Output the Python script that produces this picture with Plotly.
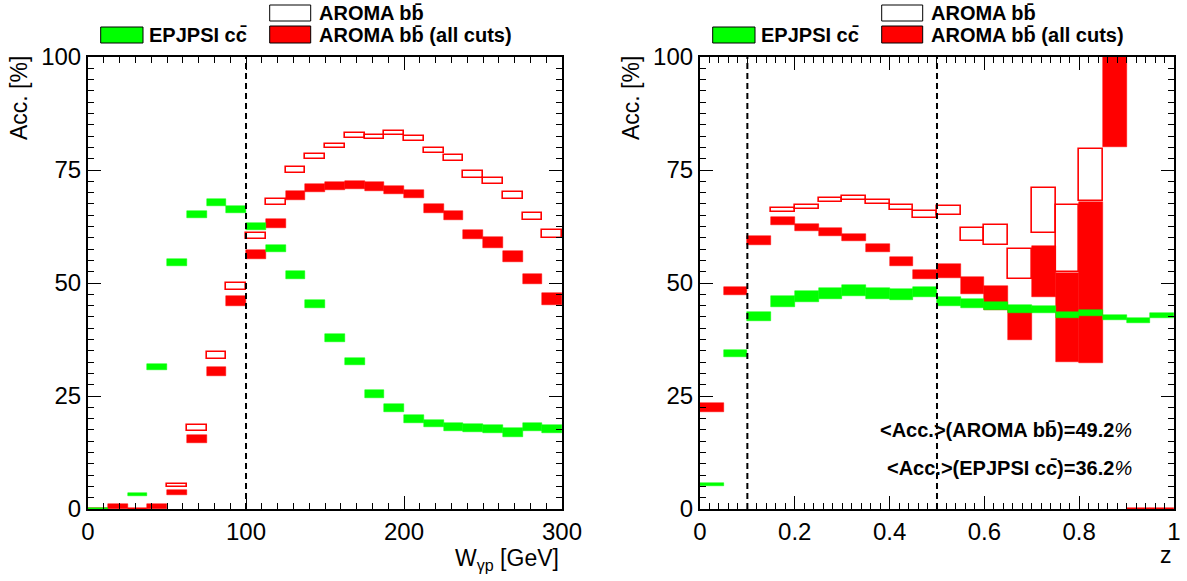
import plotly.graph_objects as go

# ---------------- data ----------------
# Left panel: W_gamma-p bins (GeV)
w_edges = [0, 12.5, 25, 37.5, 50, 62.5, 75, 87.5, 100, 112.5, 125, 137.5, 150,
           162.5, 175, 187.5, 200, 212.5, 225, 237.5, 250, 262.5, 275, 287.5, 300]

w_epj_val = [0, None, 3.3, 31.4, 54.5, 65.1, 67.8, 66.2, 62.5, 57.6, 51.8, 45.4,
             37.9, 32.6, 25.5, 22.3, 19.9, 18.9, 18.1, 17.9, 17.6, 16.9, 18.1, 17.7]
w_epj_err = [0.3, None, 0.35, 0.75, 0.75, 0.75, 0.75, 0.75, 0.78, 0.82, 0.82, 0.85,
             0.85, 0.85, 0.85, 0.85, 0.88, 0.85, 0.85, 0.85, 0.88, 0.93, 0.85, 0.9]

w_aro_cut_val = [0, 0.5, 0, 0.5, 3.6, 15.4, 30.4, 46.0, 56.4, 63.2, 69.3, 71.0,
                 71.5, 71.7, 71.4, 70.6, 69.7, 66.5, 64.9, 60.7, 59.0, 55.9, 50.9, 46.4]
w_aro_cut_err = [0.3, 0.5, 0.3, 0.5, 0.55, 0.9, 1.0, 1.05, 1.0, 1.0, 0.95, 0.95,
                 0.9, 0.95, 0.95, 0.97, 0.97, 1.0, 1.0, 1.05, 1.15, 1.15, 1.2, 1.3]

w_aro_val = [None, None, None, None, 5.2, 17.9, 33.9, 49.3, 60.4, 67.9, 75.0, 77.9,
             80.3, 82.6, 82.3, 83.2, 82.0, 79.3, 77.6, 74.0, 72.6, 69.3, 64.7, 60.9]
w_aro_err = [None, None, None, None, 0.4, 0.7, 0.73, 0.77, 0.65, 0.62, 0.58, 0.54,
             0.54, 0.5, 0.54, 0.47, 0.54, 0.54, 0.62, 0.7, 0.73, 0.8, 0.8, 0.9]

# Right panel: z bins
z_edges = [0, 0.05, 0.1, 0.15, 0.2, 0.25, 0.3, 0.35, 0.4, 0.45, 0.5,
           0.55, 0.6, 0.65, 0.7, 0.75, 0.8, 0.85, 0.9, 0.95, 1.0]

z_epj_val = [5.5, 34.4, 42.6, 45.9, 47.0, 47.7, 48.4, 47.7, 47.5, 48.0,
             45.9, 45.4, 44.9, 44.2, 44.1, 42.9, 43.3, 42.4, 41.7, 42.9]
z_epj_err = [0.3, 0.78, 1.04, 1.15, 1.22, 1.3, 1.26, 1.22, 1.19, 1.19,
             1.0, 1.04, 0.82, 0.89, 0.82, 0.74, 0.7, 0.63, 0.63, 0.56]

z_aro_cut_val = [22.4, 48.3, 59.5, 63.7, 62.2, 61.3, 60.1, 57.8, 54.7, 51.9,
                 52.7, 49.5, 46.7, 40.9, 52.5, 42.4, 50.1, 100.0, 0, 0]
z_aro_cut_err = [1.0, 0.9, 1.0, 0.8, 0.8, 0.8, 0.85, 0.9, 1.0, 1.08,
                 1.5, 1.9, 2.6, 3.6, 5.7, 9.8, 17.9, 20.0, 0.3, 0.3]

z_aro_val = [None, None, None, 66.1, 66.9, 68.3, 68.8, 67.9, 66.7, 65.1,
             66.0, 60.7, 60.6, 54.2, 66.0, 59.9, 73.9, None, None, None]
z_aro_err = [None, None, None, 0.4, 0.43, 0.4, 0.4, 0.43, 0.65, 0.77,
             1.0, 1.5, 2.2, 3.3, 5.0, 7.4, 5.7, None, None, None]

w_cuts = [100]
z_cuts = [0.1, 0.5]

mean_text = ["&lt;Acc.&gt;(AROMA bb\u0304)=49.2", "&lt;Acc.&gt;(EPJPSI cc\u0304)=36.2"]

# ---------------- styling ----------------
GREEN = "#00ff00"
RED = "#ff0000"
FONT = "Liberation Sans, Arial, Helvetica, sans-serif"


def boxes(edges, vals, errs, xa, ya, fill, line, lw):
    xs, ys, bs, ws = [], [], [], []
    for i, (v, e) in enumerate(zip(vals, errs)):
        if v is None:
            continue
        lo, hi = edges[i], edges[i + 1]
        xs.append((lo + hi) / 2)
        ws.append(hi - lo)
        bs.append(v - e)
        ys.append(2 * e)
    return go.Bar(x=xs, y=ys, base=bs, width=ws, xaxis=xa, yaxis=ya,
                  marker=dict(color=fill, line=dict(color=line, width=lw)),
                  hoverinfo="skip", showlegend=False)


fig = go.Figure()
for edges, xa, ya, av, ae, cv, ce, gv, ge in [
        (w_edges, "x", "y", w_aro_val, w_aro_err, w_aro_cut_val, w_aro_cut_err, w_epj_val, w_epj_err),
        (z_edges, "x2", "y2", z_aro_val, z_aro_err, z_aro_cut_val, z_aro_cut_err, z_epj_val, z_epj_err)]:
    fig.add_trace(boxes(edges, av, ae, xa, ya, "rgba(255,255,255,0)", RED, 1.6))
    fig.add_trace(boxes(edges, cv, ce, xa, ya, RED, RED, 0.5))
    fig.add_trace(boxes(edges, gv, ge, xa, ya, GREEN, GREEN, 0.5))

axis_common = dict(showline=True, linecolor="black", linewidth=2, mirror="ticks",
                   ticks="inside", ticklen=13, tickwidth=1.3, tickcolor="black",
                   showgrid=False, zeroline=False, automargin=False,
                   tickfont=dict(family=FONT, size=24, color="black"))

fig.update_layout(
    width=1187, height=581, autosize=False,
    margin=dict(l=88, r=13, t=57, b=72, autoexpand=False),
    paper_bgcolor="white", plot_bgcolor="white",
    barmode="overlay", bargap=0, showlegend=False,
    xaxis=dict(domain=[0, 0.4365], range=[0, 300], anchor="y", tickvals=[0, 100, 200, 300],
               minor=dict(ticks="inside", ticklen=6, dtick=10, tickcolor="black", tickwidth=1),
               **axis_common),
    yaxis=dict(domain=[0, 1], range=[0, 100], anchor="x", tickvals=[0, 25, 50, 75, 100],
               minor=dict(ticks="inside", ticklen=6, dtick=2.5, tickcolor="black", tickwidth=1),
               **axis_common),
    xaxis2=dict(domain=[0.5635, 1], range=[0, 1], anchor="y2",
                tickvals=[0, 0.2, 0.4, 0.6, 0.8, 1], ticktext=["0", "0.2", "0.4", "0.6", "0.8", "1"],
                minor=dict(ticks="inside", ticklen=6, dtick=0.02, tickcolor="black", tickwidth=1),
                **axis_common),
    yaxis2=dict(domain=[0, 1], range=[0, 100], anchor="x2", tickvals=[0, 25, 50, 75, 100],
                minor=dict(ticks="inside", ticklen=6, dtick=2.5, tickcolor="black", tickwidth=1),
                **axis_common),
)

shapes = []
for c in w_cuts:
    shapes.append(dict(type="line", xref="x", yref="y", x0=c, x1=c, y0=0, y1=100,
                       line=dict(color="black", width=2, dash="6px,4px")))
for c in z_cuts:
    shapes.append(dict(type="line", xref="x2", yref="y2", x0=c, x1=c, y0=0, y1=100,
                       line=dict(color="black", width=2, dash="6px,4px")))


def px2paper(px, py):
    return (px - 88) / 1086.0, (509 - py) / 452.0


annotations = []
leg_font = dict(family=FONT, size=20, color="black")
for pl in [88, 700]:
    gx0, gx1 = pl + 12.7, pl + 55
    bx0, bx1 = pl + 181.7, pl + 222.7
    # green legend box
    x0, y0 = px2paper(gx0, 43)
    x1, y1 = px2paper(gx1, 27)
    shapes.append(dict(type="rect", xref="paper", yref="paper", x0=x0, x1=x1, y0=y0, y1=y1,
                       fillcolor=GREEN, line=dict(color="black", width=1)))
    tx, ty = px2paper(pl + 59, 35)
    annotations.append(dict(xref="paper", yref="paper", x=tx, y=ty, xanchor="left", yanchor="middle",
                            text="<b>EPJPSI cc\u0304</b>", showarrow=False, font=leg_font))
    # white box
    x0, y0 = px2paper(bx0, 21)
    x1, y1 = px2paper(bx1, 5)
    shapes.append(dict(type="rect", xref="paper", yref="paper", x0=x0, x1=x1, y0=y0, y1=y1,
                       fillcolor="white", line=dict(color="black", width=1)))
    tx, ty = px2paper(pl + 229, 13)
    annotations.append(dict(xref="paper", yref="paper", x=tx, y=ty, xanchor="left", yanchor="middle",
                            text="<b>AROMA bb\u0304</b>", showarrow=False, font=leg_font))
    # red box
    x0, y0 = px2paper(bx0, 43)
    x1, y1 = px2paper(bx1, 26)
    shapes.append(dict(type="rect", xref="paper", yref="paper", x0=x0, x1=x1, y0=y0, y1=y1,
                       fillcolor=RED, line=dict(color="black", width=1)))
    tx, ty = px2paper(pl + 229, 35)
    annotations.append(dict(xref="paper", yref="paper", x=tx, y=ty, xanchor="left", yanchor="middle",
                            text="<b>AROMA bb\u0304 (all cuts)</b>", showarrow=False, font=leg_font))

title_font = dict(family=FONT, size=23, color="black")
for yx in [19, 631]:
    ax, ay = px2paper(yx, 98)
    annotations.append(dict(xref="paper", yref="paper", x=ax, y=ay, xanchor="center", yanchor="middle",
                            text="Acc. [%]", textangle=-90, showarrow=False, font=title_font))
ax, ay = px2paper(561, 559)
annotations.append(dict(xref="paper", yref="paper", x=ax, y=ay, xanchor="right", yanchor="middle",
                        text="W<sub>\u03b3p</sub> [GeV]", showarrow=False, font=title_font))
ax, ay = px2paper(1174, 555)
annotations.append(dict(xref="paper", yref="paper", x=ax, y=ay, xanchor="right", yanchor="middle",
                        text="z", showarrow=False, font=title_font))

for t, py in zip(mean_text, [430, 468]):
    ax, ay = px2paper(1134, py)
    annotations.append(dict(xref="paper", yref="paper", x=ax, y=ay, xanchor="right", yanchor="middle",
                            text="<b>" + t + "</b><i>%</i>", showarrow=False,
                            font=dict(family=FONT, size=20, color="black")))

fig.update_layout(shapes=shapes, annotations=annotations)
fig.write_html(
    "out.html", config={"responsive": False},
    post_script=("document.documentElement.style.margin='0';document.body.style.margin='0';"
                 "document.documentElement.style.overflow='hidden';document.body.style.overflow='hidden';"
                 "var gd=document.getElementById('{plot_id}');"
                 "Plotly.relayout(gd,{width:1187,height:581});"))
